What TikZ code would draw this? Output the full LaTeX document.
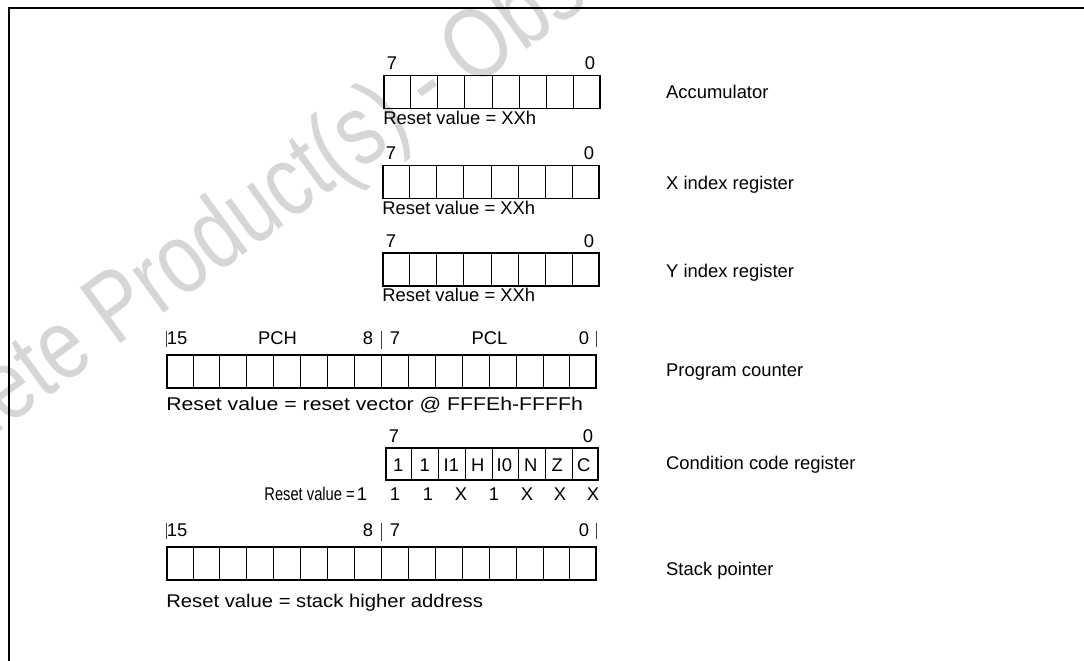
\documentclass[tikz,border=0pt]{standalone}
\usepackage{fontspec}
\setmainfont{Liberation Sans}
\usetikzlibrary{calc,positioning}
\definecolor{wmgray}{RGB}{214,214,214}

\begin{document}
\begin{tikzpicture}[x=1pt,y=-1pt,
  font=\fontsize{18.4}{22}\selectfont,
  frame/.style={draw=black,line width=1.3pt},
  regbox/.style={draw=black,line width=1.8pt,inner sep=0pt,minimum height=33pt},
  divider/.style={draw=black,line width=1pt},
  bitno/.style={inner sep=0pt,anchor=base},
  txt/.style={inner sep=0pt,anchor=base west},
  bytetick/.style={draw=black!75,line width=.9pt},
  regname/.style={inner sep=0pt,anchor=base west}]

\useasboundingbox (0,0) rectangle (1084,661);
% watermark
\begin{scope}
  \clip (0,0) rectangle (1084,661);
  \node[text=wmgray,font=\fontsize{100}{110}\selectfont,rotate=36,inner sep=0pt] (wm) at (428,89)
    {\scalebox{0.8}[1]{Obsolete Product(s) - Obsolete Product(s)}};
\end{scope}
\draw[frame] (9,661) -- (9,8) -- (1084,8);

% 8 bit registers
\node[regbox,minimum width=216pt] (acc) at (492,92) {};
\node[regbox,minimum width=216pt] (xreg) at (491,182) {};
\node[regbox,minimum width=216pt] (yreg) at (491,269.5) {};
\node[regbox,minimum width=212pt,minimum height=32pt] (ccr) at (492,464) {};
% 16 bit registers
\node[regbox,minimum width=429pt] (pc) at (381.5,371.5) {};
\node[regbox,minimum width=429pt] (sp) at (381.5,563.5) {};

\foreach \reg/\n in {acc/8,xreg/8,yreg/8,ccr/8,pc/16,sp/16}{
  \pgfmathtruncatemacro{\last}{\n-1}
  \foreach \i in {1,...,\last}
    \draw[divider] ($(\reg.north west)!\i/\n!(\reg.north east)$) -- ($(\reg.south west)!\i/\n!(\reg.south east)$);
}

% bit numbers and reset values
\foreach \reg in {acc,xreg,yreg,ccr}{
  \node[bitno] (\reg hi) at ([xshift=9pt,yshift=5pt]\reg.north west) {7};
  \node[bitno] (\reg lo) at ([xshift=-11pt,yshift=5pt]\reg.north east) {0};
}
\node[txt] (accrst) at ([yshift=-15pt]acc.south west) {Reset value = XXh};
\node[txt] (xrst) at ([yshift=-15pt]xreg.south west) {Reset value = XXh};
\node[txt] (yrst) at ([yshift=-15pt]yreg.south west) {Reset value = XXh};

\foreach \reg in {pc,sp}{
  \node[bitno] (\reg b15) at ([xshift=11pt,yshift=10pt]\reg.north west) {15};
  \node[bitno] (\reg b8) at ([xshift=-13.5pt,yshift=10pt]\reg.north) {8};
  \node[bitno] (\reg b7) at ([xshift=13.5pt,yshift=10pt]\reg.north) {7};
  \node[bitno] (\reg b0) at ([xshift=-13pt,yshift=10pt]\reg.north east) {0};
  \draw[bytetick] ([yshift=23pt]\reg.north west) -- ([yshift=7pt]\reg.north west);
  \draw[bytetick] ([yshift=23pt]\reg.north) -- ([yshift=5pt]\reg.north);
  \draw[bytetick] ([yshift=23pt]\reg.north east) -- ([yshift=7pt]\reg.north east);
}
\node[bitno] (pch) at ([xshift=-104pt,yshift=10pt]pc.north) {PCH};
\node[bitno] (pcl) at ([xshift=108pt,yshift=10pt]pc.north) {PCL};
\node[txt] (pcrst) at ([yshift=-22pt]pc.south west)
  {\scalebox{1.155}[1]{Reset value = reset vector @ FFFEh-FFFFh}};
\node[txt] (sprst) at ([yshift=-27pt]sp.south west)
  {\scalebox{1.1}[1]{Reset value = stack higher address}};

% condition code bits
\foreach \val [count=\i from 0] in {1,1,I1,H,I0,N,Z,C}
  \node[bitno] (cc\i) at ([xshift={13.25pt+26.5pt*\i},yshift=-7pt]ccr.west) {\val};
\node[inner sep=0pt,anchor=base east] (ccrst) at (355,500) {\scalebox{0.8}[1]{Reset value =}};
\foreach \val [count=\i from 0] in {1,1,1,X,1,X,X,X}
  \node[bitno] (rv\i) at ({362+33*\i},500) {\val};

% register names
\node[regname] (accname) at (666,99) {Accumulator};
\node[regname] (xname) at (666,189) {X index register};
\node[regname] (yname) at (666,277) {Y index register};
\node[regname] (pcname) at (666,376) {Program counter};
\node[regname] (ccname) at (666,469) {Condition code register};
\node[regname] (spname) at (666,575) {Stack pointer};

\end{tikzpicture}
\end{document}
